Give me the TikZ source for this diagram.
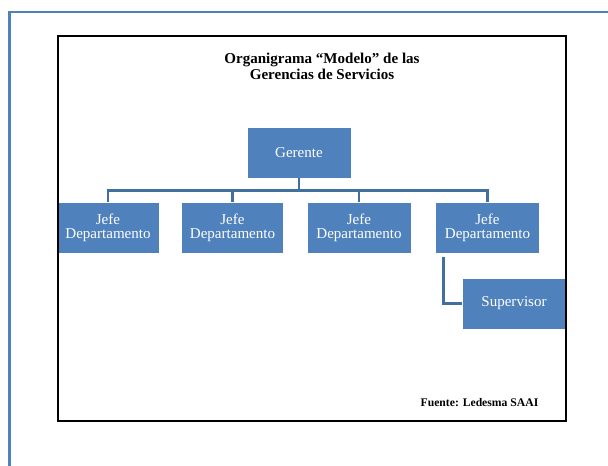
\documentclass[tikz,border=0pt]{standalone}
\usepackage{fontspec}
\setmainfont{Liberation Serif}
\usepackage{xcolor}
\usepackage{tikz}
\usetikzlibrary{calc}
\usetikzlibrary{positioning}

\definecolor{azulcaja}{HTML}{4F81BD}
\definecolor{azullinea}{HTML}{41709F}

\begin{document}
\begin{tikzpicture}[x=0.025cm,y=-0.025cm,
	caja/.style={fill=azulcaja,draw=white,line width=0.4pt,text=white,align=center,
		minimum width=2.55cm,minimum height=1.27cm,inner sep=0pt,
		font=\fontsize{10.7}{9.8}\selectfont},
	conector/.style={draw=azullinea,line width=2.1pt}]
	\useasboundingbox (0,0) rectangle (608,466);
	% hoja
	\draw[azulcaja,line width=1.6pt] (9.5,466) -- (9.5,12) -- (608,12);
	% titulo
	\node[align=center,font=\fontsize{10.7}{11.4}\selectfont\bfseries] (titulo) at (322,66) {Organigrama ``Modelo'' de las\\Gerencias de Servicios};
	% cajas
	\node[caja,minimum width=2.6cm] (gerente) at (299,152.5) {Gerente};
	\node[caja] (jefeA) at (108,228) {Jefe\\Departamento};
	\node[caja] (jefeB) at (232.5,228) {Jefe\\Departamento};
	\node[caja,minimum width=2.6cm] (jefeC) at (359,228) {Jefe\\Departamento};
	\node[caja,minimum width=2.6cm] (jefeD) at (487.5,228) {Jefe\\Departamento};
	\node[caja,minimum width=2.6cm] (supervisor) at (514,303.5) {Supervisor};
	% lineas
	\foreach \j in {jefeA,jefeB,jefeC,jefeD}
		\draw[conector] (gerente.south) -- ++(0,12) -| (\j.north);
	\draw[conector] ([xshift=0.2cm,yshift=-0.075cm]jefeD.south west) |- (supervisor.west);
	% marco
	\draw[black,line width=2pt] (58,36) rectangle (566,421);
	\node[font=\fontsize{8.3}{10}\selectfont\bfseries] (fuente) at (479.5,403) {Fuente: Ledesma SAAI};
\end{tikzpicture}
\end{document}
